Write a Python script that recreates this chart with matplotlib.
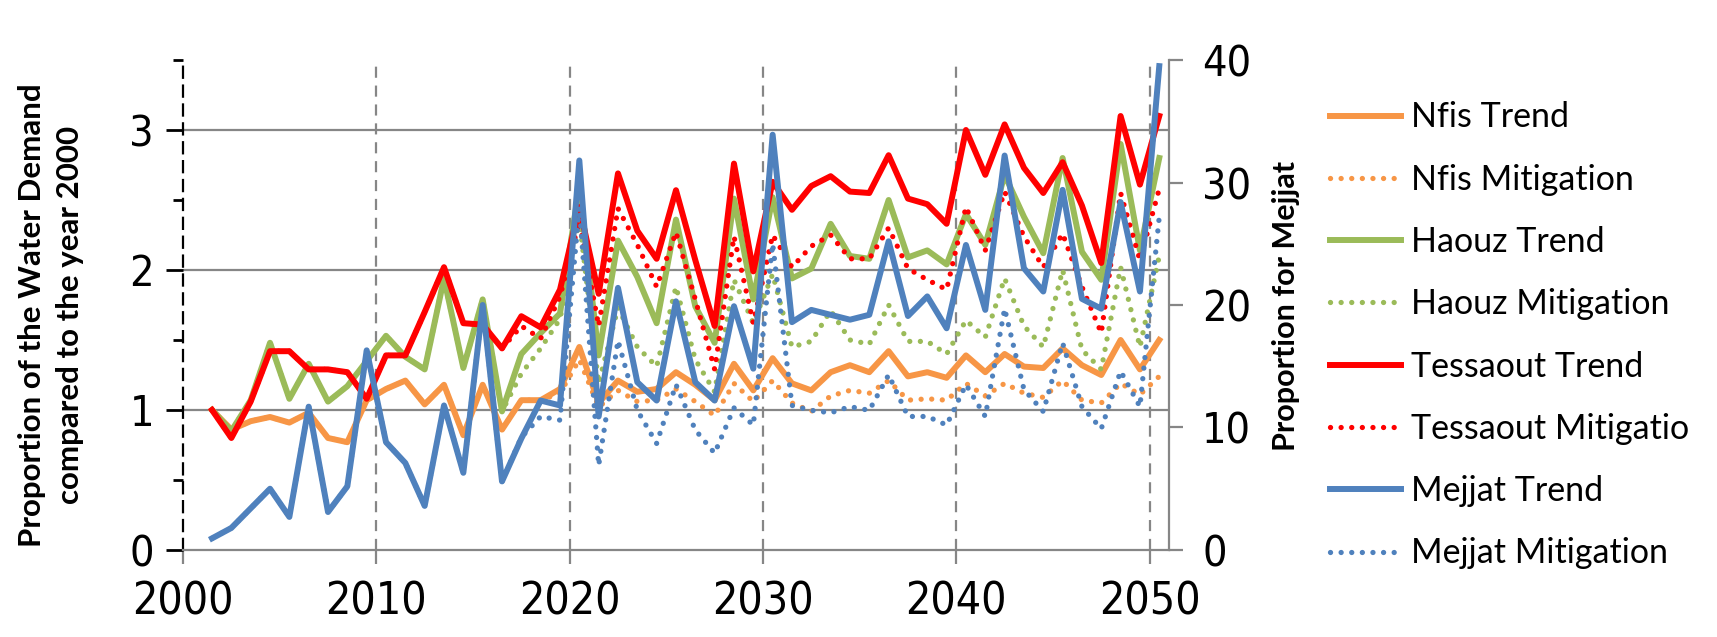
import numpy as np
import matplotlib
matplotlib.use("Agg")
import matplotlib.pyplot as plt
from matplotlib.ticker import MultipleLocator

plt.rcParams['font.family'] = ['Lato', 'DejaVu Sans']

# yearly values, 2001-2050
years = np.arange(2001, 2051)

nfis_trend = [1.00, 0.86, 0.92, 0.95, 0.91, 0.98, 0.80, 0.77, 1.07, 1.15,
              1.21, 1.04, 1.18, 0.82, 1.18, 0.86, 1.07, 1.07, 1.15, 1.45,
              1.05, 1.21, 1.13, 1.15, 1.27, 1.18, 1.07, 1.33, 1.14, 1.37,
              1.19, 1.14, 1.27, 1.32, 1.27, 1.42, 1.24, 1.27, 1.23, 1.39,
              1.27, 1.40, 1.31, 1.30, 1.44, 1.32, 1.25, 1.50, 1.29, 1.50]
nfis_mitig = [1.00, 0.86, 0.92, 0.95, 0.91, 0.98, 0.80, 0.77, 1.07, 1.15,
              1.21, 1.04, 1.18, 0.82, 1.18, 0.86, 1.07, 1.07, 1.12, 1.36,
              1.02, 1.14, 1.06, 1.07, 1.15, 1.06, 0.96, 1.19, 1.06, 1.21,
              1.05, 0.99, 1.10, 1.14, 1.12, 1.21, 1.07, 1.08, 1.07, 1.19,
              1.10, 1.19, 1.12, 1.09, 1.21, 1.07, 1.05, 1.19, 1.11, 1.24]
haouz_trend = [1.00, 0.85, 1.07, 1.48, 1.08, 1.33, 1.06, 1.17, 1.35, 1.53,
               1.38, 1.29, 1.94, 1.30, 1.79, 0.99, 1.40, 1.55, 1.69, 2.60,
               1.39, 2.21, 1.95, 1.62, 2.36, 1.74, 1.48, 2.51, 1.79, 2.52,
               1.94, 2.01, 2.33, 2.10, 2.08, 2.50, 2.09, 2.14, 2.04, 2.40,
               2.18, 2.68, 2.38, 2.12, 2.80, 2.13, 1.93, 2.90, 2.14, 2.80]
haouz_mitig = [1.00, 0.85, 1.07, 1.48, 1.08, 1.33, 1.06, 1.17, 1.35, 1.53,
               1.38, 1.29, 1.94, 1.30, 1.79, 0.99, 1.26, 1.44, 1.65, 2.36,
               1.19, 1.73, 1.45, 1.31, 1.88, 1.36, 1.13, 1.93, 1.62, 1.97,
               1.45, 1.49, 1.71, 1.50, 1.47, 1.75, 1.49, 1.49, 1.40, 1.64,
               1.52, 1.94, 1.60, 1.45, 2.00, 1.43, 1.29, 2.02, 1.45, 2.10]
tess_trend = [1.00, 0.80, 1.06, 1.42, 1.42, 1.29, 1.29, 1.27, 1.08, 1.39,
              1.39, 1.70, 2.02, 1.62, 1.61, 1.44, 1.67, 1.59, 1.86, 2.45,
              1.83, 2.69, 2.28, 2.08, 2.57, 2.07, 1.60, 2.76, 1.99, 2.63,
              2.43, 2.60, 2.67, 2.56, 2.55, 2.82, 2.51, 2.47, 2.33, 3.00,
              2.68, 3.04, 2.73, 2.55, 2.77, 2.46, 2.05, 3.10, 2.61, 3.10]
tess_mitig = [1.00, 0.80, 1.06, 1.42, 1.42, 1.29, 1.29, 1.27, 1.08, 1.39,
              1.39, 1.70, 2.02, 1.62, 1.61, 1.44, 1.60, 1.51, 1.81, 2.35,
              1.60, 2.44, 2.18, 1.88, 2.27, 1.79, 1.29, 2.24, 1.62, 2.25,
              2.02, 2.17, 2.25, 2.08, 2.08, 2.30, 2.01, 1.93, 1.86, 2.45,
              2.14, 2.56, 2.24, 2.02, 2.26, 1.88, 1.55, 2.55, 2.07, 2.58]
mejjat_trend = [0.95, 1.8, 3.4, 5.0, 2.7, 11.7, 3.1, 5.2, 16.3, 8.8,
                7.1, 3.6, 11.8, 6.3, 20.0, 5.6, 9.1, 12.2, 11.8, 31.8,
                10.9, 21.4, 13.7, 12.2, 20.3, 13.7, 12.2, 19.9, 14.8, 33.9,
                18.6, 19.6, 19.2, 18.8, 19.2, 25.2, 19.1, 20.7, 18.1, 24.9,
                19.6, 32.2, 23.0, 21.1, 29.4, 20.5, 19.7, 28.4, 21.1, 39.5]
mejjat_mitig = [0.95, 1.8, 3.4, 5.0, 2.7, 11.7, 3.1, 5.2, 16.3, 8.8,
                7.1, 3.6, 11.8, 6.3, 20.0, 5.6, 9.2, 10.9, 10.6, 28.0,
                6.9, 17.1, 11.4, 8.7, 13.5, 9.8, 7.9, 11.6, 10.2, 25.0,
                11.8, 11.4, 11.2, 11.7, 11.4, 14.3, 10.9, 10.9, 10.2, 13.5,
                10.9, 19.7, 13.1, 11.3, 16.9, 11.7, 9.9, 14.6, 11.7, 27.2]

orange = '#F79646'
green = '#9BBB59'
red = '#FF0000'
blue = '#4F81BD'
grid_gray = '#868686'
tick_fonts = ['Liberation Sans Narrow', 'DejaVu Sans']

x = years + 0.5  # values sit in the middle of each year
dots = (0, (0.01, 2.0))
solid_lw = 4.3
dot_lw = 3.8

fig = plt.figure(figsize=(17.17, 6.37), dpi=100)
ax1 = fig.add_axes([0.1066, 0.1366, 0.5742, 0.7692])

ax1.set_xlim(2000, 2051)
ax1.set_ylim(0, 3.5)

# grid lines
for yv in [1, 2, 3]:
    ax1.axhline(yv, color=grid_gray, lw=1.6, zorder=1)
for xv in [2010, 2020, 2030, 2040, 2050]:
    ax1.axvline(xv, color=grid_gray, lw=1.6, ls=(0, (5, 3.5)), zorder=1)

h_nt, = ax1.plot(x, nfis_trend, color=orange, lw=solid_lw, label='Nfis Trend')
h_nm, = ax1.plot(x, nfis_mitig, color=orange, lw=dot_lw, ls=dots, dash_capstyle='round', label='Nfis Mitigation')
h_ht, = ax1.plot(x, haouz_trend, color=green, lw=solid_lw, label='Haouz Trend')
h_hm, = ax1.plot(x, haouz_mitig, color=green, lw=dot_lw, ls=dots, dash_capstyle='round', label='Haouz Mitigation')
h_tt, = ax1.plot(x, tess_trend, color=red, lw=solid_lw, label='Tessaout Trend')
h_tm, = ax1.plot(x, tess_mitig, color=red, lw=dot_lw, ls=dots, dash_capstyle='round', label='Tessaout Mitigatio')

ax1.spines['top'].set_visible(False)
ax1.spines['right'].set_visible(False)
ax1.spines['bottom'].set_color(grid_gray)
ax1.spines['bottom'].set_linewidth(1.6)
ax1.spines['left'].set_color('black')
ax1.spines['left'].set_linewidth(1.6)
ax1.spines['left'].set_linestyle((0, (5, 3.5)))

ax1.set_xticks([2000, 2010, 2020, 2030, 2040, 2050])
ax1.set_yticks([0, 1, 2, 3])
ax1.yaxis.set_minor_locator(MultipleLocator(0.5))
ax1.tick_params(axis='x', length=10, width=1.6, color=grid_gray, pad=12,
                labelsize=32, labelfontfamily=tick_fonts)
ax1.tick_params(axis='y', which='major', length=12, width=2, color='black', pad=9,
                labelsize=31, labelfontfamily=tick_fonts)
ax1.tick_params(axis='y', which='minor', length=7, width=2, color='black')

# Mejjat on secondary axis
ax2 = ax1.twinx()
ax2.set_ylim(0, 40)
h_mt, = ax2.plot(x, mejjat_trend, color=blue, lw=solid_lw, label='Mejjat Trend')
h_mm, = ax2.plot(x, mejjat_mitig, color=blue, lw=dot_lw, ls=dots, dash_capstyle='round', label='Mejjat Mitigation')
ax2.set_yticks([0, 10, 20, 30, 40])
for s in ['top', 'left', 'bottom']:
    ax2.spines[s].set_visible(False)
ax2.spines['right'].set_color(grid_gray)
ax2.spines['right'].set_linewidth(1.6)
ax2.tick_params(axis='y', length=10, width=1.6, color=grid_gray, pad=14,
                labelsize=31, labelfontfamily=tick_fonts)

for lab in ax1.get_xticklabels() + ax1.get_yticklabels() + ax2.get_yticklabels():
    lab.set_fontstretch('condensed')

fig.text(0.0297, 0.505, 'Proportion of the Water Demand\ncompared to the year 2000',
         rotation=90, ha='center', va='center', fontsize=22.5, fontweight='bold', linespacing=1.45)
fig.text(0.749, 0.52, 'Proportion for Mejjat', rotation=90, ha='center', va='center',
         fontsize=22, fontweight='bold')

handles = [h_nt, h_nm, h_ht, h_hm, h_tt, h_tm, h_mt, h_mm]
fig.legend(handles=handles, labels=[h.get_label() for h in handles],
           loc='upper left', bbox_to_anchor=(0.7746, 0.8407), frameon=False,
           fontsize=24.5, handlelength=2.1, handletextpad=0.27,
           labelspacing=0.89, borderpad=0, borderaxespad=0)

fig.savefig('out.png', dpi=100)
